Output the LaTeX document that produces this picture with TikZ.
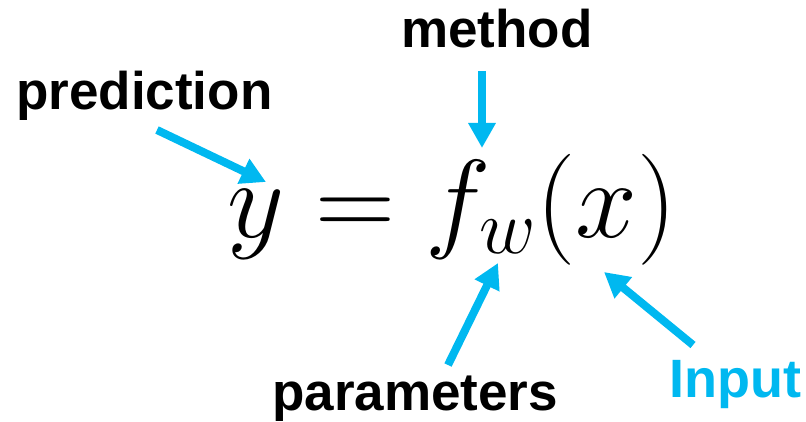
\RequirePackage{fix-cm}
\documentclass[tikz,border=0pt]{standalone}
\usepackage{fontspec}
\setmainfont{Liberation Sans}
\usetikzlibrary{arrows.meta,positioning}
\definecolor{skyblue}{RGB}{0,184,240}

\begin{document}
\begin{tikzpicture}[x=1pt,y=-1pt,
    lbl/.style={font=\fontsize{53}{60}\selectfont\bfseries,inner sep=0pt,anchor=base west},
    pointer/.style={-{Triangle[length=25pt,width=26pt]},line width=8pt,skyblue}]
  \useasboundingbox (0,0) rectangle (806,422);
  % the formula
  \node[inner sep=0pt,anchor=base west,font=\fontsize{111}{130}\selectfont] (eq) at (227,237) {$y = f_w(x)$};
  % labels
  \node[lbl] (pred) at (16,110) {prediction};
  \node[lbl] (meth) at (401,48) {method};
  \node[lbl] (param) at (272,410) {parameters};
  \node[lbl,text=skyblue,font=\fontsize{54}{60}\selectfont\bfseries] (inp) at (669,397) {Input};
  % arrow ends
  \coordinate (predtail) at (157,130);
  \coordinate (ytip) at (266,182);
  \coordinate (methtail) at (482,71);
  \coordinate (ftip) at (482,148);
  \coordinate (paramtail) at (448,365);
  \coordinate (wtip) at (498,263);
  \coordinate (inptail) at (693,345);
  \coordinate (xtip) at (604,272);
  \draw[pointer] (predtail) -- (ytip);
  \draw[pointer] (methtail) -- (ftip);
  \draw[pointer] (paramtail) -- (wtip);
  \draw[pointer] (inptail) -- (xtip);
\end{tikzpicture}
\end{document}
